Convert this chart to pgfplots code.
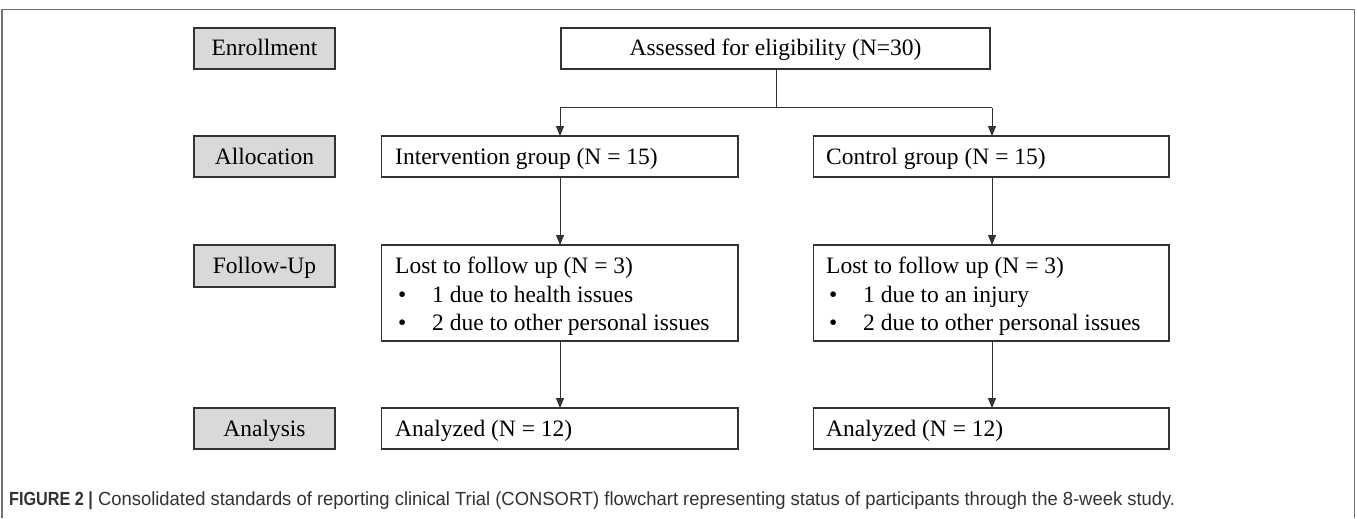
\documentclass[border=0pt]{standalone}
\usepackage{pgfplots}
\pgfplotsset{compat=1.18}
\usepackage{graphicx}
\usepackage{fontspec}
\setmainfont{Liberation Serif}
\newfontfamily\capfont{Liberation Sans}
\usetikzlibrary{arrows.meta}
\definecolor{boxline}{HTML}{333333}
\definecolor{labelfill}{HTML}{D9D9D9}
\definecolor{captext}{HTML}{333333}
\begin{document}
\begin{tikzpicture}
\tikzset{lab/.style={draw=boxline, fill=labelfill, line width=1.4bp},
         bx/.style={draw=boxline, fill=white, line width=1.4bp},
         txt/.style={inner sep=0pt, font=\fontsize{23.5bp}{26bp}\selectfont, text=black},
         arr/.style={draw=boxline, line width=1bp, -{Triangle[length=10bp,width=8bp]}}}
\begin{axis}[
  scale only axis, width=1357bp, height=518bp,
  xmin=0, xmax=1357, ymin=0, ymax=518, y dir=reverse,
  hide axis, clip=false,
]
% page extent
\path[fill=white] (axis cs:0,0) rectangle (axis cs:1357,518);
% outer frame (open at bottom)
\draw[color=black!55, line width=1.2bp] (axis cs:2,518) -- (axis cs:2,9.5) -- (axis cs:1354.5,9.5) -- (axis cs:1354.5,518);
% stage label boxes
\draw[lab] (axis cs:194,28) rectangle (axis cs:335,69);
\draw[lab] (axis cs:194,136) rectangle (axis cs:335,177);
\draw[lab] (axis cs:194,245) rectangle (axis cs:335,287);
\draw[lab] (axis cs:194,408) rectangle (axis cs:335,449);
\node[txt, anchor=base] at (axis cs:264.5,56) {Enrollment};
\node[txt, anchor=base] at (axis cs:264.5,164) {Allocation};
\node[txt, anchor=base] at (axis cs:264.5,273) {Follow-Up};
\node[txt, anchor=base] at (axis cs:264.5,436) {Analysis};
% content boxes
\draw[bx] (axis cs:561,28) rectangle (axis cs:990,69);
\node[txt, anchor=base] at (axis cs:775.5,56) {Assessed for eligibility (N=30)};
\draw[bx] (axis cs:381.5,136) rectangle (axis cs:738,177);
\draw[bx] (axis cs:813.5,136) rectangle (axis cs:1169,177);
\node[txt, anchor=base west] at (axis cs:395,164) {Intervention group (N = 15)};
\node[txt, anchor=base west] at (axis cs:826,164) {Control group (N = 15)};
\draw[bx] (axis cs:381.5,245) rectangle (axis cs:738,341);
\draw[bx] (axis cs:813.5,245) rectangle (axis cs:1169,341);
\node[txt, anchor=base west] at (axis cs:395,273) {Lost to follow up (N = 3)};
\node[txt, anchor=base west] at (axis cs:398,302) {\textbullet};
\node[txt, anchor=base west] at (axis cs:432,302) {1 due to health issues};
\node[txt, anchor=base west] at (axis cs:398,330) {\textbullet};
\node[txt, anchor=base west] at (axis cs:432,330) {2 due to other personal issues};
\node[txt, anchor=base west] at (axis cs:826,273) {Lost to follow up (N = 3)};
\node[txt, anchor=base west] at (axis cs:829,302) {\textbullet};
\node[txt, anchor=base west] at (axis cs:863,302) {1 due to an injury};
\node[txt, anchor=base west] at (axis cs:829,330) {\textbullet};
\node[txt, anchor=base west] at (axis cs:863,330) {2 due to other personal issues};
\draw[bx] (axis cs:381.5,408) rectangle (axis cs:738,449);
\draw[bx] (axis cs:813.5,408) rectangle (axis cs:1169,449);
\node[txt, anchor=base west] at (axis cs:395,436) {Analyzed (N = 12)};
\node[txt, anchor=base west] at (axis cs:826,436) {Analyzed (N = 12)};
% connectors
\draw[draw=boxline, line width=1bp] (axis cs:776,69) -- (axis cs:776,107.5);
\draw[draw=boxline, line width=1bp] (axis cs:560,107.5) -- (axis cs:992,107.5);
\draw[arr] (axis cs:560,107.5) -- (axis cs:560,136);
\draw[arr] (axis cs:992,107.5) -- (axis cs:992,136);
\draw[arr] (axis cs:560,177) -- (axis cs:560,245);
\draw[arr] (axis cs:992,177) -- (axis cs:992,245);
\draw[arr] (axis cs:560,341) -- (axis cs:560,408);
\draw[arr] (axis cs:992,341) -- (axis cs:992,408);
% caption
\node[inner sep=0pt, anchor=base west, text=captext] at (axis cs:9,505.5)
  {\resizebox{1166bp}{\height}{\capfont\fontsize{19bp}{21bp}\selectfont\scalebox{0.88}[1]{\textbf{FIGURE 2 |}} Consolidated standards of reporting clinical Trial (CONSORT) flowchart representing status of participants through the 8-week study.}};
\end{axis}
\end{tikzpicture}
\end{document}
